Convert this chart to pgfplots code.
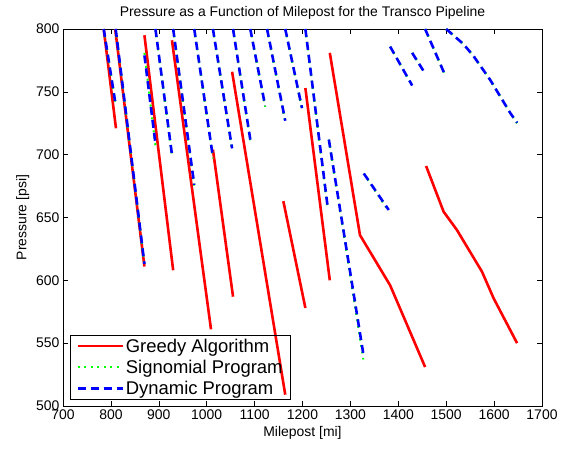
\documentclass[border=0pt]{standalone}
\usepackage{fontspec}
\setmainfont{Liberation Sans}
\usepackage{pgfplots}
\pgfplotsset{compat=1.18}
\definecolor{mred}{rgb}{1,0,0}
\definecolor{mgreen}{rgb}{0,1,0}
\definecolor{mblue}{rgb}{0,0,1}
\begin{document}
\begin{tikzpicture}
\useasboundingbox (-63bp,-44bp) rectangle (507bp,406bp);
\begin{axis}[
 at={(0,0)}, anchor=south west,
 scale only axis, width=479bp, height=377bp,
 xmin=700, xmax=1700, ymin=500, ymax=800,
 xtick={700,800,...,1700}, ytick={500,550,...,800},
 tick align=inside, major tick length=5bp,
 axis line style={line width=0.6bp},
 every tick/.style={black, line width=0.6bp},
 tick label style={font=\fontsize{14}{16}\selectfont},
 /pgf/number format/assume math mode=true,
 /pgf/number format/1000 sep={},
 title={Pressure as a Function of Milepost for the Transco Pipeline},
 title style={font=\fontsize{14}{16}\selectfont},
 xlabel={Milepost [mi]}, ylabel={Pressure [psi]},
 label style={font=\fontsize{14}{16}\selectfont},
 unbounded coords=jump,
 clip=true,
 legend style={at={(0.0146,0.0159)}, anchor=south west, draw=black, line width=0.6bp,
   fill=none, inner xsep=6bp, inner ysep=1.5bp, row sep=2.5bp,
   font=\fontsize{18.5}{21}\selectfont, cells={anchor=west}},
 legend image code/.code={\draw[#1] (0bp,0bp) -- (45bp,0bp);},
]
\addplot[mred, line width=2.6bp] coordinates {
(785,800) (810.6,721) (810,nan)
(809,800) (870,611) (870,nan)
(870,795) (930,608) (930,nan)
(927.5,791) (1009,561) (1009,nan)
(1013,704) (1055,587) (1055,nan)
(1053,766) (1164,509) (1164,nan)
(1160,663) (1206,578) (1206,nan)
(1206,753) (1257,600) (1257,nan)
(1257,781) (1320,636) (1383,596) (1456,531) (1456,nan)
(1458,691) (1494.6,654.6) (1522.5,640) (1574.7,606.9) (1599,585.7) (1648,550)
};
\addlegendentry{Greedy Algorithm\hspace{6bp}}
\addplot[mgreen, line width=2bp, dash pattern=on 2bp off 4.5bp] coordinates {
(785,800) (809,742) (809,nan)
(810,800) (870,612) (870,nan)
(870,781) (893,707) (893,nan)
(893,800) (927.5,699) (927,nan)
(930,800) (974,675) (974,nan)
(974,800) (1013,697) (1013,nan)
(1013,800) (1053,704) (1053,nan)
(1055,800) (1091,711) (1091,nan)
(1091,800) (1122,738) (1122,nan)
(1126,800) (1164,726) (1164,nan)
(1164,800) (1199,736) (1199,nan)
(1206,800) (1252,658) (1252,nan)
(1255,712) (1327,537) (1327,nan)
(1328,685) (1380,655) (1380,nan)
(1383,786) (1429,755) (1429,nan)
(1429,781) (1452,767) (1452,nan)
(1456,800) (1498,763) (1498,nan)
(1500,800) (1536,788) (1557,778.5) (1592,759.4) (1634,733) (1648,725)
};
\addlegendentry{Signomial Program}
\addplot[mblue, line width=2.6bp, dash pattern=on 8bp off 5bp] coordinates {
(785,800) (809,742) (809,nan)
(810,800) (870,613) (870,nan)
(870,779) (893,709) (893,nan)
(893,800) (927.5,700) (927,nan)
(930,800) (974,676) (974,nan)
(974,800) (1013,698) (1013,nan)
(1013,800) (1053,705) (1053,nan)
(1055,800) (1091,712) (1091,nan)
(1091,800) (1122,739) (1122,nan)
(1126,800) (1164,727) (1164,nan)
(1164,800) (1199,737) (1199,nan)
(1206,800) (1252,660) (1252,nan)
(1255,712) (1328,539) (1328,nan)
(1328,685) (1380,656) (1380,nan)
(1383,786) (1429,755) (1429,nan)
(1429,781) (1452,767) (1452,nan)
(1456,800) (1498,763) (1498,nan)
(1500,800) (1536,788) (1557,778.5) (1592,759.4) (1634,733) (1648,725.4)
};
\addlegendentry{Dynamic Program}
\end{axis}
\end{tikzpicture}
\end{document}
